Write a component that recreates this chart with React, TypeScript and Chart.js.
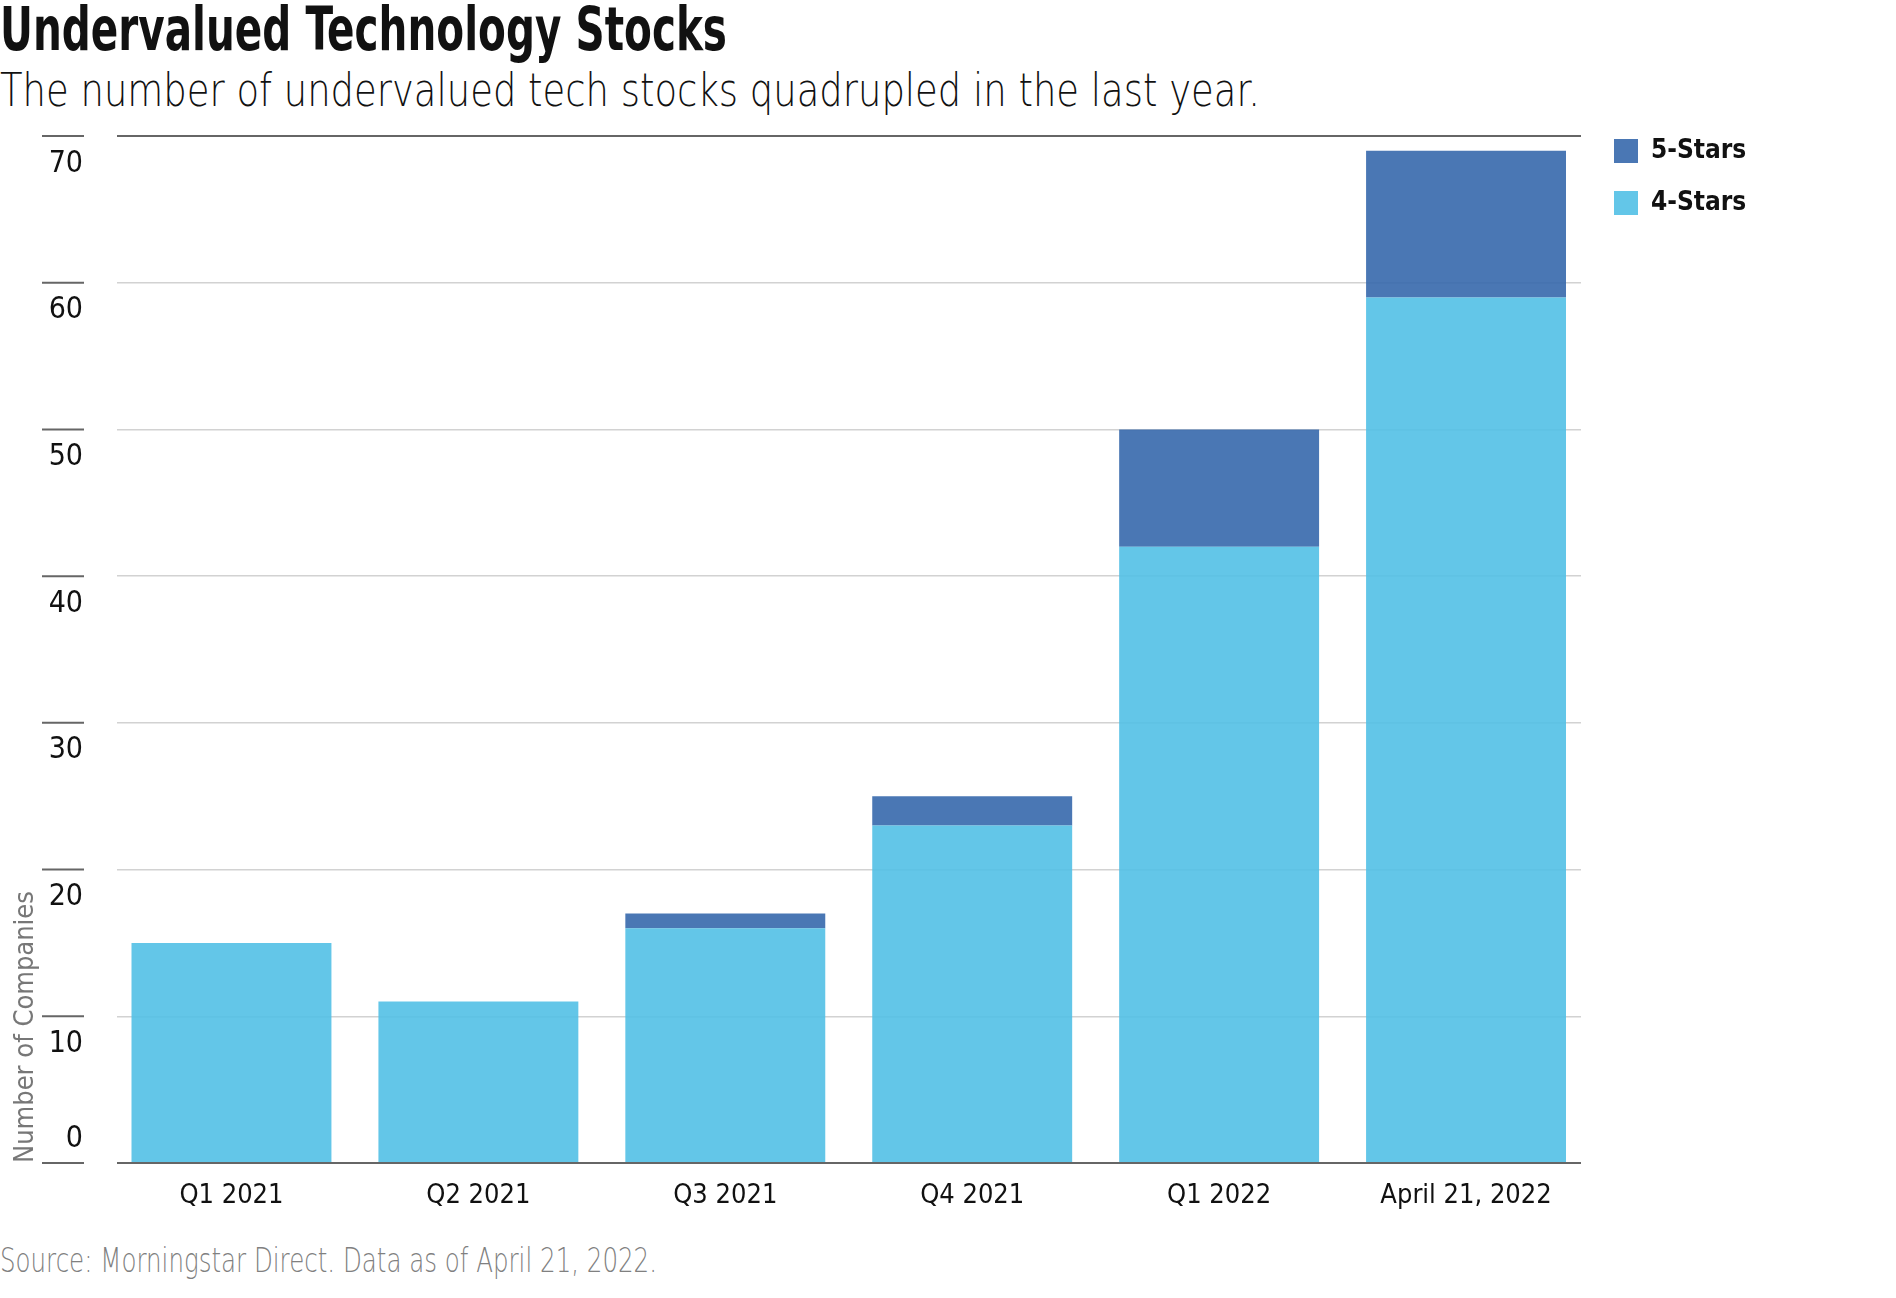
import React, { useEffect, useLayoutEffect, useRef } from 'react';
import { Chart, registerables } from 'chart.js';

Chart.register(...registerables);

// ---- data ----
const categories = ['Q1 2021', 'Q2 2021', 'Q3 2021', 'Q4 2021', 'Q1 2022', 'April 21, 2022'];
const fourStars = [15, 11, 16, 23, 42, 59];
const fiveStars = [0, 0, 1, 2, 8, 10];
const yTicks = [0, 10, 20, 30, 40, 50, 60, 70];

const titleText = 'Undervalued Technology Stocks';
const subtitleText = 'The number of undervalued tech stocks quadrupled in the last year.';
const sourceText = 'Source: Morningstar Direct. Data as of April 21, 2022.';
const yAxisTitle = 'Number of Companies';

const FONT = '"DejaVu Sans Condensed", "Liberation Sans Narrow", sans-serif';
const LIGHT_FONT = '"DejaVu Sans", sans-serif';

const yTickMarks = {
  id: 'yTickMarks',
  afterDraw(chart: any) {
    const { ctx, chartArea, scales } = chart;
    const y = scales.y;
    ctx.save();
    ctx.strokeStyle = '#666';
    ctx.lineWidth = 2;
    y.ticks.forEach((t: any) => {
      const py = y.getPixelForValue(t.value);
      ctx.beginPath();
      ctx.moveTo(chartArea.left - 75, py);
      ctx.lineTo(chartArea.left - 33, py);
      ctx.stroke();
    });
    ctx.restore();
  },
};

const legendLayout = {
  id: 'legendLayout',
  beforeLayout(chart: any) {
    const l = chart.legend;
    if (l && !l._fixedFit) {
      const orig = l.fit.bind(l);
      l.fit = () => {
        orig();
        l.width = 172;
      };
      l._fixedFit = true;
    }
  },
  afterLayout(chart: any) {
    const l = chart.legend;
    if (l) {
      l.left += 7;
      l.right += 7;
    }
  },
};

export default function App() {
  const canvasRef = useRef<HTMLCanvasElement | null>(null);
  const titleRef = useRef<HTMLDivElement | null>(null);
  const subRef = useRef<HTMLDivElement | null>(null);
  const srcRef = useRef<HTMLDivElement | null>(null);

  useLayoutEffect(() => {
    document.body.style.margin = '0';
    const fit = (el: HTMLDivElement | null, target: number) => {
      if (!el) return;
      el.style.transform = 'none';
      const w = el.getBoundingClientRect().width;
      if (w > 0) el.style.transform = `scaleX(${target / w})`;
    };
    fit(titleRef.current, 727);
    fit(subRef.current, 1260);
    fit(srcRef.current, 657);
  }, []);

  useEffect(() => {
    const canvas = canvasRef.current;
    if (!canvas) return;
    const chart = new Chart(canvas, {
      type: 'bar',
      data: {
        datasets: [
          {
            label: '4-Stars',
            data: fourStars.map((v, i) => ({ x: i, y: v })),
            backgroundColor: 'rgba(82,192,229,0.9)',
            barPercentage: 200 / 247,
            categoryPercentage: 1,
          },
          {
            label: '5-Stars',
            data: fiveStars.map((v, i) => ({ x: i, y: v })),
            backgroundColor: 'rgba(54,104,172,0.9)',
            barPercentage: 200 / 247,
            categoryPercentage: 1,
          },
        ],
      } as any,
      options: {
        animation: false,
        responsive: true,
        maintainAspectRatio: false,
        layout: { padding: { left: 0, top: 0, right: 143, bottom: 0 } },
        plugins: {
          tooltip: { enabled: false },
          legend: {
            position: 'right',
            align: 'start',
            reverse: true,
            labels: {
              boxWidth: 24,
              boxHeight: 24,
              padding: 26,
              color: '#111',
              font: { family: FONT, size: 26, weight: 'bold' },
            },
          },
        },
        scales: {
          x: {
            type: 'linear',
            stacked: true,
            min: -0.4636,
            max: 5.4656,
            offset: false,
            afterBuildTicks: (s: any) => {
              s.ticks = categories.map((_, i) => ({ value: i }));
            },
            ticks: {
              autoSkip: false,
              maxRotation: 0,
              minRotation: 0,
              padding: 17,
              color: '#111',
              font: { family: FONT, size: 27 },
              callback: (v: any) => categories[v as number] ?? '',
            },
            grid: { display: false, drawTicks: false },
            border: { display: false },
            afterFit: (s: any) => {
              s.height = 67;
              s.paddingLeft = 0;
              s.paddingRight = 0;
            },
          },
          y: {
            stacked: true,
            min: 0,
            max: 70,
            afterBuildTicks: (s: any) => {
              s.ticks = yTicks.map((v) => ({ value: v }));
            },
            ticks: {
              padding: 34,
              labelOffset: 2,
              color: '#111',
              font: { family: FONT, size: 30, lineHeight: '51.5px' },
              callback: (v: any) => (v === 0 ? [String(v), ''] : ['', String(v)]),
            },
            grid: {
              drawTicks: false,
              color: (c: any) =>
                c.tick && (c.tick.value === 0 || c.tick.value === 70) ? '#666' : '#d2d2d2',
              lineWidth: (c: any) =>
                c.tick && (c.tick.value === 0 || c.tick.value === 70) ? 2 : 1.5,
            },
            border: { display: false },
            title: {
              display: true,
              text: yAxisTitle,
              align: 'start',
              color: '#777',
              font: { family: FONT, size: 27 },
              padding: { top: 10, bottom: 0 },
            },
            afterFit: (s: any) => {
              s.width = 117;
              s.paddingTop = 24;
              s.paddingBottom = 0;
            },
          },
        },
      } as any,
      plugins: [yTickMarks, legendLayout],
    });
    return () => chart.destroy();
  }, []);

  const textBase: React.CSSProperties = {
    position: 'absolute',
    left: 0,
    whiteSpace: 'nowrap',
    display: 'inline-block',
    transformOrigin: 'left top',
  };

  return (
    <div
      style={{
        position: 'relative',
        width: 1896,
        height: 1298,
        background: '#fff',
        overflow: 'hidden',
      }}
    >
      <div
        ref={titleRef}
        style={{
          ...textBase,
          top: -2,
          fontFamily: FONT,
          fontSize: 61,
          lineHeight: '61px',
          fontWeight: 700,
          color: '#111',
        }}
      >
        {titleText}
      </div>
      <div
        ref={subRef}
        style={{
          ...textBase,
          top: 67,
          fontFamily: LIGHT_FONT,
          fontSize: 46,
          lineHeight: '46px',
          fontWeight: 200,
          color: '#111',
        }}
      >
        {subtitleText}
      </div>
      <div style={{ position: 'absolute', left: 0, top: 112, width: 1896, height: 1118 }}>
        <canvas ref={canvasRef} />
      </div>
      <div
        ref={srcRef}
        style={{
          ...textBase,
          top: 1244,
          fontFamily: LIGHT_FONT,
          fontSize: 33,
          lineHeight: '33px',
          fontWeight: 200,
          color: '#808080',
        }}
      >
        {sourceText}
      </div>
    </div>
  );
}
